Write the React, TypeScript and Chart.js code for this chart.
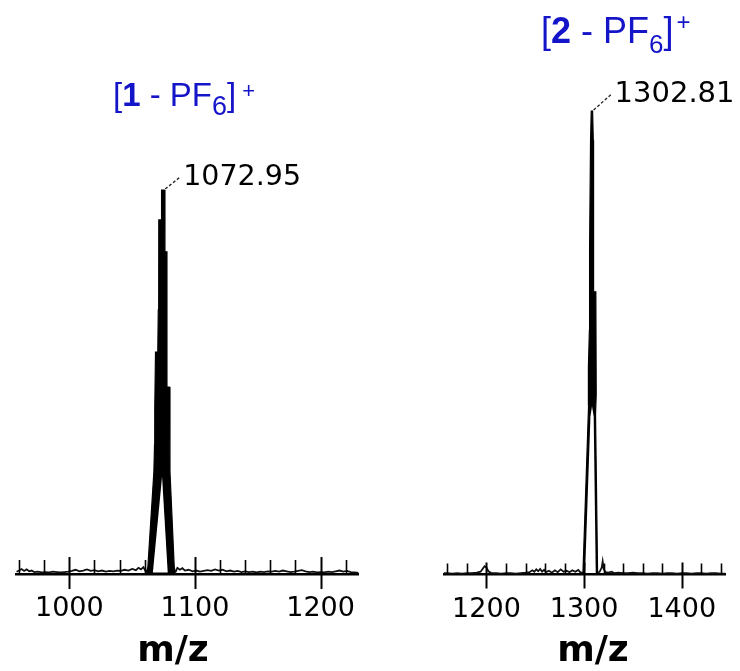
import React, { useEffect, useRef } from 'react';
import { Chart, registerables } from 'chart.js';

Chart.register(...registerables);

// ---------- data ----------
// left spectrum: [1 - PF6]+
const leftTickValues = [960, 980, 1000, 1020, 1040, 1060, 1080, 1100, 1120, 1140, 1160, 1180, 1200, 1220];
const leftMajorTicks = [1000, 1100, 1200];
const leftRange = [958, 1230];
const leftPeakLabel = '1072.95';
// outer outline of the isotope envelope [m/z, relative intensity]
const leftPeakEnvelope: [number, number][] = [
  [1061.2, 0.4], [1062.5, 1.8], [1067.3, 26.6], [1067.8, 33.6], [1068.0, 43.2], [1068.6, 57.8],
  [1070.4, 57.8], [1070.8, 68.8], [1071.2, 92.2], [1073.0, 92.2], [1073.4, 100], [1075.5, 100],
  [1076.1, 83.9], [1077.7, 83.9], [1077.7, 48.7], [1079.6, 48.7], [1080.1, 26.6], [1083.5, 1.8],
  [1084.4, 0.4],
];
// open gap between the two outer traces at the foot of the peak
const leftPeakGap: [number, number][] = [[1066.5, 0.4], [1073.8, 25.3], [1078.3, 0.4]];
const leftNoiseLow: [number, number][] = [
  [958, 0.6], [960, 0.9], [962, 1.3], [964, 0.8], [966, 1.2], [968, 0.7], [970, 0.9], [972, 0.5],
  [975, 0.6], [978, 0.4], [981, 0.5], [984, 0.4], [987, 0.6], [990, 0.5], [993, 0.4], [996, 0.5],
  [999, 0.6], [1002, 0.8], [1005, 1.1], [1008, 0.7], [1011, 0.9], [1014, 1.2], [1017, 0.8],
  [1020, 1.0], [1023, 0.7], [1026, 0.9], [1029, 0.6], [1032, 0.8], [1035, 0.7], [1038, 0.9],
  [1041, 0.8], [1044, 1.1], [1047, 0.9], [1050, 1.3], [1053, 1.0], [1055, 1.6], [1057, 1.2],
  [1059, 1.8], [1061.2, 0.4],
];
const leftNoiseHigh: [number, number][] = [
  [1084.4, 0.4], [1086, 1.6], [1088, 1.1], [1090, 1.5], [1092, 0.9], [1095, 1.1], [1098, 0.7],
  [1101, 0.9], [1104, 0.6], [1107, 0.8], [1110, 1.0], [1113, 0.8], [1116, 1.2], [1119, 0.9],
  [1122, 1.1], [1125, 0.7], [1128, 0.9], [1131, 0.6], [1134, 0.8], [1137, 0.5], [1140, 0.7],
  [1143, 0.5], [1146, 0.6], [1149, 0.4], [1152, 0.6], [1155, 0.5], [1158, 0.7], [1161, 0.6],
  [1164, 0.8], [1167, 0.6], [1170, 0.9], [1173, 0.7], [1176, 0.5], [1179, 0.6], [1182, 0.8],
  [1185, 1.0], [1188, 0.7], [1191, 0.5], [1194, 0.6], [1197, 0.4], [1200, 0.5], [1203, 0.4],
  [1206, 0.6], [1209, 0.5], [1212, 0.7], [1215, 0.9], [1218, 0.6], [1221, 0.8], [1224, 0.5],
  [1227, 0.4], [1230, 0.3],
];

// right spectrum: [2 - PF6]+
const rightTickValues = [1160, 1180, 1200, 1220, 1240, 1260, 1280, 1300, 1320, 1340, 1360, 1380, 1400, 1420, 1440];
const rightMajorTicks = [1200, 1300, 1400];
const rightRange = [1156.5, 1444.5];
const rightPeakLabel = '1302.81';
const rightPeakEnvelope: [number, number][] = [
  [1298.8, 0.3], [1304.6, 36.6], [1304.4, 44.7], [1305.4, 52.7], [1305.6, 70.0], [1306.6, 93.7],
  [1307.3, 100], [1308.7, 100], [1309.4, 93.7], [1309.7, 61.0], [1312.0, 61.0], [1312.4, 38.8],
  [1311.7, 34.5], [1313.8, 0.3],
];
const rightPeakGap: [number, number][] = [[1301.0, 0.3], [1306.5, 34.1], [1308.1, 36.3], [1309.8, 34.1], [1311.9, 0.3]];
const rightNoiseLow: [number, number][] = [
  [1156.5, 0.3], [1160, 0.3], [1165, 0.2], [1170, 0.3], [1175, 0.2], [1180, 0.3], [1185, 0.3],
  [1190, 0.4], [1194, 0.6], [1196, 1.2], [1198, 1.8], [1200, 1.5], [1202, 0.7], [1205, 0.3],
  [1210, 0.3], [1215, 0.2], [1220, 0.3], [1225, 0.3], [1230, 0.2], [1235, 0.3], [1240, 0.4],
  [1244, 0.5], [1247, 0.9], [1249, 0.6], [1251, 1.1], [1253, 0.7], [1255, 1.2], [1257, 0.6],
  [1259, 1.0], [1261, 0.5], [1264, 0.8], [1267, 0.4], [1270, 0.9], [1273, 0.5], [1276, 1.1],
  [1279, 0.6], [1282, 0.8], [1285, 0.5], [1288, 0.9], [1291, 0.6], [1294, 1.0], [1296, 0.5],
  [1298.8, 0.3],
];
const rightNoiseHigh: [number, number][] = [
  [1313.8, 0.3], [1316, 0.6], [1318, 1.5], [1319, 2.8], [1320, 1.2], [1322, 0.5], [1325, 0.4],
  [1328, 0.6], [1331, 0.3], [1335, 0.4], [1340, 0.3], [1345, 0.3], [1350, 0.4], [1355, 0.3],
  [1360, 0.3], [1365, 0.2], [1370, 0.3], [1375, 0.3], [1380, 0.2], [1385, 0.3], [1390, 0.3],
  [1395, 0.2], [1400, 0.3], [1405, 0.3], [1410, 0.2], [1415, 0.3], [1420, 0.3], [1425, 0.2],
  [1430, 0.3], [1435, 0.3], [1440, 0.2], [1444.5, 0.2],
];

const BLUE = '#1414c8';

type PanelProps = {
  left: number;
  width: number;
  height: number;
  pad: { left: number; right: number; top: number; bottom: number };
  range: number[];
  ticks: number[];
  major: number[];
  envelope: [number, number][];
  gap: [number, number][];
  noise: [number, number][][];
  label: string;
  labelSize: number;
  leader: [number, number];
  textOff: [number, number];
  majorUp: number;
  majorDown: number;
  minorUp: number;
};

const toXY = (arr: [number, number][]) => arr.map(([x, y]) => ({ x, y }));

function Panel(p: PanelProps) {
  const ref = useRef<HTMLCanvasElement>(null);
  useEffect(() => {
    if (!ref.current) return;
    const maxI = Math.max(...p.envelope.map((d) => d[1]));
    const apexPts = p.envelope.filter((d) => d[1] === maxI);
    const apex = apexPts[apexPts.length - 1];

    const overlay = {
      id: 'msOverlay',
      afterDatasetsDraw(chart: any) {
        const { ctx } = chart;
        const ys = chart.scales.y;
        const base = ys.getPixelForValue(0);
        // fill the isotope envelope (dataset 0) with the library's own point positions
        const env = chart.getDatasetMeta(0).data;
        ctx.save();
        ctx.fillStyle = '#000';
        ctx.beginPath();
        ctx.moveTo(env[0].x, base);
        env.forEach((pt: any) => ctx.lineTo(pt.x, pt.y));
        ctx.lineTo(env[env.length - 1].x, base);
        ctx.closePath();
        ctx.fill();
        // open the gap at the foot of the peak (dataset 1)
        const gap = chart.getDatasetMeta(1).data;
        ctx.fillStyle = '#fff';
        ctx.beginPath();
        gap.forEach((pt: any, i: number) => (i ? ctx.lineTo(pt.x, pt.y) : ctx.moveTo(pt.x, pt.y)));
        ctx.closePath();
        ctx.fill();
        ctx.restore();
      },
      afterDraw(chart: any) {
        const { ctx } = chart;
        const xs = chart.scales.x;
        const ys = chart.scales.y;
        const y0 = chart.chartArea.bottom;
        ctx.save();
        ctx.strokeStyle = '#000';
        for (const v of p.ticks) {
          const px = Math.round(xs.getPixelForValue(v)) + 0.5;
          const isMajor = p.major.includes(v);
          ctx.lineWidth = isMajor ? 2 : 1.6;
          ctx.beginPath();
          ctx.moveTo(px, y0 - (isMajor ? p.majorUp : p.minorUp));
          ctx.lineTo(px, y0 + (isMajor ? p.majorDown : 0));
          ctx.stroke();
        }
        const ax = xs.getPixelForValue(apex[0]);
        const ay = ys.getPixelForValue(apex[1]);
        ctx.setLineDash([3, 2]);
        ctx.strokeStyle = '#222';
        ctx.lineWidth = 1.3;
        ctx.beginPath();
        ctx.moveTo(ax + 1, ay - 1);
        ctx.lineTo(ax + p.leader[0], ay + p.leader[1]);
        ctx.stroke();
        ctx.setLineDash([]);
        ctx.fillStyle = '#000';
        ctx.font = `${p.labelSize}px "DejaVu Sans"`;
        ctx.textBaseline = 'alphabetic';
        ctx.textAlign = 'left';
        ctx.fillText(p.label, ax + p.textOff[0], ay + p.textOff[1]);
        ctx.restore();
      },
    };

    const lineDs = (data: [number, number][]) => ({
      data: toXY(data),
      fill: false,
      borderColor: '#111',
      borderWidth: 1.8,
      pointRadius: 0,
      tension: 0,
      clip: false as any,
    });

    const chart = new Chart(ref.current, {
      type: 'line',
      data: {
        datasets: [
          { ...lineDs(p.envelope), borderColor: '#000', borderWidth: 1.2 },
          { ...lineDs(p.gap), borderWidth: 0, borderColor: 'rgba(0,0,0,0)' },
          ...p.noise.map((n) => lineDs(n)),
        ],
      },
      options: {
        animation: false,
        responsive: false,
        events: [],
        layout: { padding: p.pad },
        plugins: { legend: { display: false }, tooltip: { enabled: false } },
        scales: {
          x: {
            type: 'linear',
            min: p.range[0],
            max: p.range[1],
            afterBuildTicks: (scale: any) => {
              scale.ticks = p.ticks.map((v) => ({ value: v }));
            },
            afterFit: (scale: any) => {
              scale.height = 60;
            },
            grid: { display: false, drawTicks: false },
            border: { display: true, color: '#000', width: 2.5 },
            ticks: {
              autoSkip: false,
              maxRotation: 0,
              minRotation: 0,
              padding: 19,
              color: '#000',
              font: { family: '"DejaVu Sans"', size: 27 },
              callback: (v: any) => (p.major.includes(Number(v)) ? String(v) : ''),
            },
          },
          y: { type: 'linear', display: false, min: 0, max: 100 },
        },
      },
      plugins: [overlay],
    } as any);
    return () => chart.destroy();
  }, []);
  return (
    <canvas
      ref={ref}
      width={p.width}
      height={p.height}
      style={{ position: 'absolute', left: p.left, top: 0, width: p.width, height: p.height }}
    />
  );
}

const axisTitle = (cx: number) => (
  <div
    style={{
      position: 'absolute',
      left: cx - 100,
      top: 631,
      width: 200,
      textAlign: 'center',
      font: 'bold 36px "DejaVu Sans"',
      lineHeight: '36px',
      color: '#000',
      whiteSpace: 'nowrap',
    }}
  >
    m/z
  </div>
);

export default function App() {
  return (
    <div
      style={{
        position: 'absolute',
        left: 0,
        top: 0,
        width: 740,
        height: 671,
        background: '#fff',
        overflow: 'hidden',
      }}
    >
      <Panel
        left={0}
        width={370}
        height={671}
        pad={{ left: 11.7, right: 11.7, top: 190, bottom: 37 }}
        range={leftRange}
        ticks={leftTickValues}
        major={leftMajorTicks}
        envelope={leftPeakEnvelope}
        gap={leftPeakGap}
        noise={[leftNoiseLow, leftNoiseHigh]}
        label={leftPeakLabel}
        labelSize={28.5}
        leader={[16, -13]}
        textOff={[19, -5]}
        majorUp={17}
        majorDown={15}
        minorUp={14}
      />
      <Panel
        left={370}
        width={370}
        height={671}
        pad={{ left: 74, right: 12.7, top: 111, bottom: 36.5 }}
        range={rightRange}
        ticks={rightTickValues}
        major={rightMajorTicks}
        envelope={rightPeakEnvelope}
        gap={rightPeakGap}
        noise={[rightNoiseLow, rightNoiseHigh]}
        label={rightPeakLabel}
        labelSize={29}
        leader={[19, -17]}
        textOff={[22, -9]}
        majorUp={12}
        majorDown={14}
        minorUp={11}
      />
      {axisTitle(173)}
      {axisTitle(593)}
      <div
        style={{
          position: 'absolute',
          left: 113,
          top: 78,
          font: '33px "Liberation Sans", Arial, sans-serif',
          lineHeight: '33px',
          color: BLUE,
          whiteSpace: 'nowrap',
        }}
      >
        [<b>1</b> - PF
        <span style={{ fontSize: 27, position: 'relative', top: 9 }}>6</span>]
        <span style={{ fontSize: 22, position: 'relative', top: -8, marginLeft: 6 }}>+</span>
      </div>
      <div
        style={{
          position: 'absolute',
          left: 541,
          top: 12.8,
          font: '36px "Liberation Sans", Arial, sans-serif',
          lineHeight: '36px',
          color: BLUE,
          whiteSpace: 'nowrap',
        }}
      >
        [<b>2</b> - PF
        <span style={{ fontSize: 26, position: 'relative', top: 10 }}>6</span>]
        <span style={{ fontSize: 24, position: 'relative', top: -13, marginLeft: 3 }}>+</span>
      </div>
    </div>
  );
}
